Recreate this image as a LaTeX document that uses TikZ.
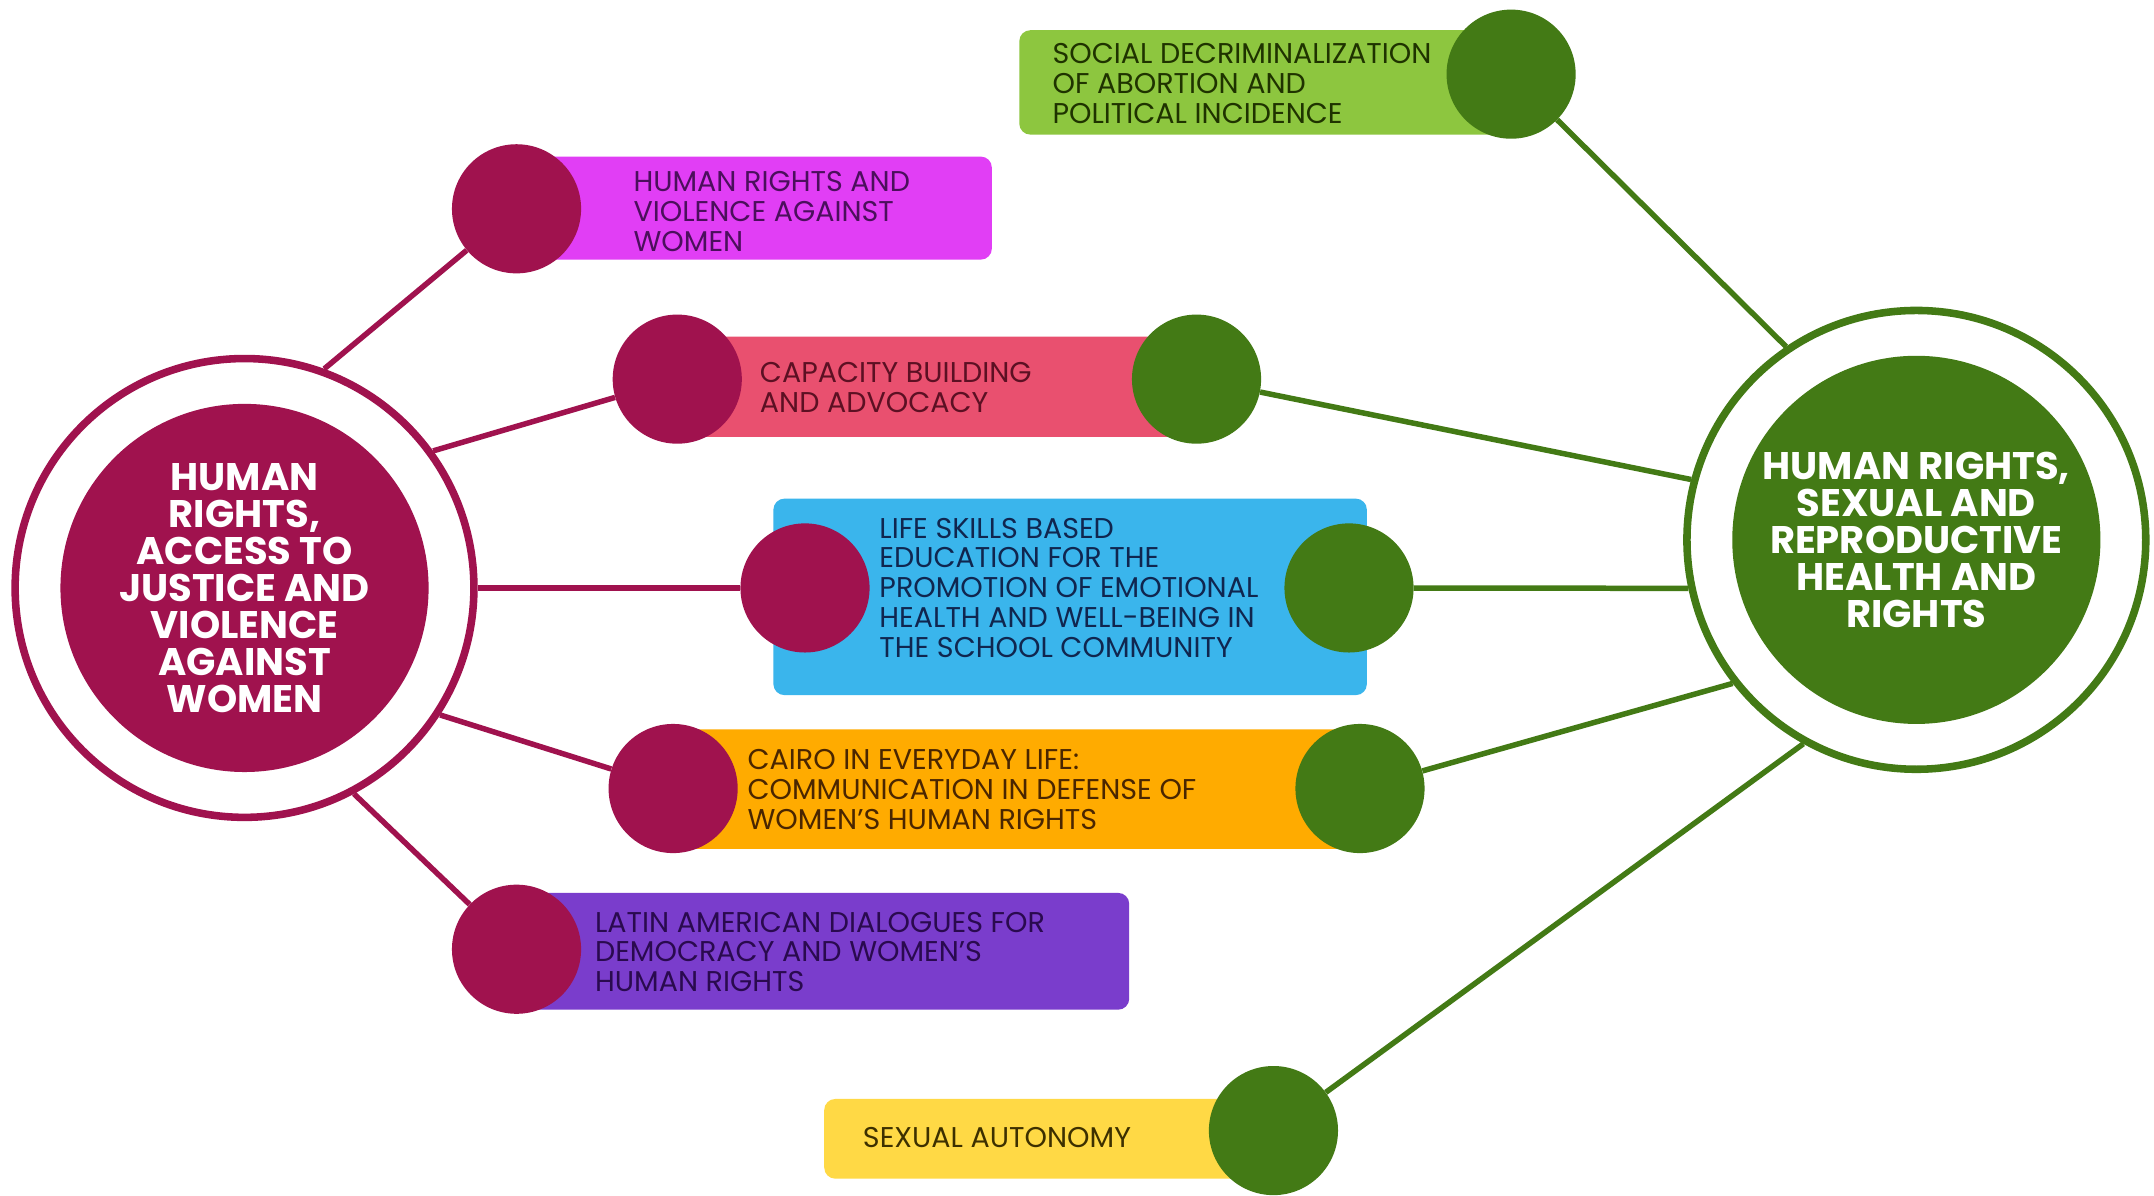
\documentclass[tikz,border=0pt]{standalone}
\usepackage{fontspec}
\setmainfont{Poppins}
\definecolor{plum}{HTML}{A0124E}
\definecolor{leaf}{HTML}{437A15}
\definecolor{bandA}{HTML}{E13EF5}
\definecolor{bandB}{HTML}{E9506F}
\definecolor{bandC}{HTML}{3AB5EC}
\definecolor{bandD}{HTML}{FFAB00}
\definecolor{bandE}{HTML}{7A3DCC}
\definecolor{bandF}{HTML}{8DC63F}
\definecolor{bandG}{HTML}{FFD945}
\definecolor{inkA}{HTML}{4B0F5C}
\definecolor{inkB}{HTML}{5C1023}
\definecolor{inkC}{HTML}{10264F}
\definecolor{inkD}{HTML}{4A2600}
\definecolor{inkE}{HTML}{2A0A4F}
\definecolor{inkF}{HTML}{1F3300}
\definecolor{inkG}{HTML}{3D3000}
\tikzset{
  hub/.style={circle, draw=#1, line width=5.5pt, minimum size=334pt, inner sep=0pt},
  hubcore/.style={circle, fill=#1, minimum size=268pt, inner sep=0pt, text=white,
    align=center, font=\bfseries\fontsize{28}{27}\selectfont},
  band/.style={rounded corners=8pt, fill=#1, inner sep=0pt},
  bead/.style={circle, fill=#1, minimum size=94pt, inner sep=0pt},
  blurb/.style={anchor=west, align=left, inner sep=0pt, text=#1,
    font=\fontsize{20.8}{21.8}\selectfont},
  spoke/.style={draw=#1, line width=4pt}
}
\begin{document}
\begin{tikzpicture}[x=1pt,y=1pt]
  \useasboundingbox (0,0) rectangle (1568,870);
  \fill[white] (0,0) rectangle (1568,870);

  \node[hub=plum] (hubL) at (178,442) {};
  \node[hubcore=plum] (coreL) at (178,442) {HUMAN\\RIGHTS,\\ACCESS TO\\JUSTICE AND\\VIOLENCE\\AGAINST\\WOMEN};
  \node[hub=leaf] (hubR) at (1395,477) {};
  \node[hubcore=leaf] (coreR) at (1395,477) {HUMAN RIGHTS,\\SEXUAL AND\\REPRODUCTIVE\\HEALTH AND\\RIGHTS};

  \node[band=bandF, minimum width=358pt, minimum height=76pt] (bandF) at (921,810) {};
  \node[bead=leaf] (beadF) at (1100,816) {};
  \node[blurb=inkF] (textF) at (766,809) {SOCIAL DECRIMINALIZATION\\OF ABORTION AND\\POLITICAL INCIDENCE};

  \node[band=bandA, minimum width=346pt, minimum height=75pt] (bandA) at (549,718.5) {};
  \node[bead=plum] (beadA) at (376,718) {};
  \node[blurb=inkA] (textA) at (461,716) {HUMAN RIGHTS AND\\VIOLENCE AGAINST\\WOMEN};

  \node[band=bandB, minimum width=378pt, minimum height=73pt] (bandB) at (682,588.5) {};
  \node[bead=plum] (beadB1) at (493,594) {};
  \node[bead=leaf] (beadB2) at (871,594) {};
  \node[blurb=inkB] (textB) at (553,588) {CAPACITY BUILDING\\AND ADVOCACY};

  \node[band=bandC, minimum width=432pt, minimum height=143pt] (bandC) at (779,435.5) {};
  \node[bead=plum] (beadC1) at (586,442) {};
  \node[bead=leaf] (beadC2) at (982,442) {};
  \node[blurb=inkC] (textC) at (640,442) {LIFE SKILLS BASED\\EDUCATION FOR THE\\PROMOTION OF EMOTIONAL\\HEALTH AND WELL-BEING IN\\THE SCHOOL COMMUNITY};

  \node[band=bandD, minimum width=500pt, minimum height=87pt] (bandD) at (740,295.5) {};
  \node[bead=plum] (beadD1) at (490,296) {};
  \node[bead=leaf] (beadD2) at (990,296) {};
  \node[blurb=inkD] (textD) at (544,295) {CAIRO IN EVERYDAY LIFE:\\COMMUNICATION IN DEFENSE OF\\WOMEN'S HUMAN RIGHTS};

  \node[band=bandE, minimum width=446pt, minimum height=85pt] (bandE) at (599,177.5) {};
  \node[bead=plum] (beadE) at (376,179) {};
  \node[blurb=inkE] (textE) at (433,177) {LATIN AMERICAN DIALOGUES FOR\\DEMOCRACY AND WOMEN'S\\HUMAN RIGHTS};

  \node[band=bandG, minimum width=330pt, minimum height=58pt] (bandG) at (765,41) {};
  \node[bead=leaf] (beadG) at (927,47) {};
  \node[blurb=inkG] (textG) at (628,42) {SEXUAL AUTONOMY};

  \begin{scope}[spoke=plum]
    \draw (hubL.70) -- (beadA);
    \draw (hubL.36) -- (beadB1);
    \draw (hubL.0) -- (beadC1);
    \draw (hubL.-33) -- (beadD1);
    \draw (hubL.-62) -- (beadE);
  \end{scope}
  \begin{scope}[spoke=leaf]
    \draw (hubR.124) -- (beadF);
    \draw (hubR.165) -- (beadB2);
    \draw (hubR.192) -- (beadC2);
    \draw (hubR.218) -- (beadD2);
    \draw (hubR.241) -- (beadG);
  \end{scope}
\end{tikzpicture}
\end{document}
